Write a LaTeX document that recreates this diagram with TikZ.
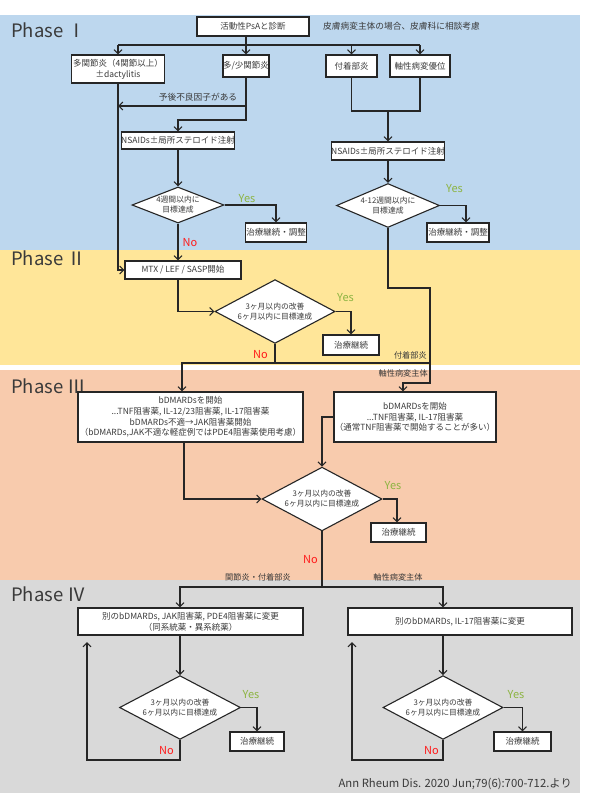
\documentclass[tikz,border=0pt]{standalone}
\usepackage{fontspec}
\setmainfont{Noto Sans CJK JP}
\usetikzlibrary{shapes.geometric,arrows.meta,calc}
\definecolor{bgI}{HTML}{BDD7EE}
\definecolor{bgII}{HTML}{FFE699}
\definecolor{bgIII}{HTML}{F8CBAD}
\definecolor{bgIV}{HTML}{D9D9D9}
\definecolor{txt}{HTML}{3A3A3A}
\definecolor{yesc}{HTML}{8DB442}
\definecolor{noc}{HTML}{FF1A1A}
\definecolor{edge}{HTML}{262626}
\tikzset{
  box/.style={draw=edge, line width=1.1pt, fill=white, inner sep=0pt, align=center, text=txt, font=\fontsize{8.5}{10.8}\selectfont},
  dia/.style={diamond, draw=edge, line width=1.1pt, fill=white, inner sep=-7pt, align=center, text=txt, font=\fontsize{7.8}{10}\selectfont},
  ln/.style={draw=edge, line width=1.1pt},
  arr/.style={ln, -{Straight Barb[length=4pt,width=8pt]}},
  yeslbl/.style={text=yesc, inner sep=0pt, font=\fontsize{11}{12}\selectfont},
  nolbl/.style={text=noc, inner sep=0pt, font=\fontsize{11}{12}\selectfont},
  lbl/.style={inner sep=0pt, text=txt, font=\fontsize{8.2}{10}\selectfont},
  phase/.style={inner sep=0pt, anchor=west, text=txt, font=\fontsize{18.5}{20}\selectfont}
}
\begin{document}
\begin{tikzpicture}[x=1pt,y=-1pt]
\useasboundingbox (0,0) rectangle (592,800);
\fill[white] (0,0) rectangle (592,800);
% backgrounds
\fill[bgI] (0,15) rectangle (580,250);
\fill[bgII] (0,250) rectangle (580,365);
\fill[bgIII] (0,370) rectangle (580,580);
\fill[bgIV] (0,580) rectangle (580,793);
% phase labels
\node[phase] (ph1) at (11,30) {Phase Ⅰ};
\node[phase] (ph2) at (11,258) {Phase Ⅱ};
\node[phase] (ph3) at (11,386) {Phase Ⅲ};
\node[phase] (ph4) at (11,594) {Phase Ⅳ};
% Phase I nodes
\node[box, minimum width=112pt, minimum height=19pt] (psa) at (253,26.5) {活動性PsAと診断};
\node[lbl, anchor=west, font=\fontsize{8.7}{10}\selectfont] (note) at (323,26) {皮膚病変主体の場合、皮膚科に相談考慮};
\node[box, minimum width=93pt, minimum height=28pt] (poly) at (118,69) {多関節炎（4関節以上）\\±dactylitis};
\node[box, minimum width=46pt, minimum height=22pt] (oligo) at (246,66) {多/少関節炎};
\node[box, minimum width=51pt, minimum height=22pt] (enth) at (351.5,66) {付着部炎};
\node[box, minimum width=60pt, minimum height=22pt] (axial) at (420,66) {軸性病変優位};
\node[lbl, font=\fontsize{8.7}{10}\selectfont] (progn) at (198,97) {予後不良因子がある};
\node[box, minimum width=113pt, minimum height=17pt] (nsaid1) at (178,140.5) {NSAIDs±局所ステロイド注射};
\node[dia, minimum width=92pt, minimum height=36pt] (d1) at (178,205) {4週間以内に\\目標達成};
\node[box, minimum width=61pt, minimum height=19pt] (cont1) at (276,232.5) {治療継続・調整};
\node[box, minimum width=112pt, minimum height=18pt] (nsaid2) at (388,151) {NSAIDs±局所ステロイド注射};
\node[dia, minimum width=103pt, minimum height=35pt] (d2) at (388,205.5) {4-12週間以内に\\目標達成};
\node[box, minimum width=62pt, minimum height=19pt] (cont2) at (458,232.5) {治療継続・調整};
% Phase II nodes
\node[box, minimum width=116pt, minimum height=18pt] (mtx) at (183,270) {MTX / LEF / SASP開始};
\node[dia, minimum width=120pt, minimum height=63pt] (d3) at (275,311.5) {3ヶ月以内の改善\\6ヶ月以内に目標達成};
\node[box, minimum width=56pt, minimum height=20pt] (cont3) at (351,345) {治療継続};
% Phase III nodes
\node[box, minimum width=225pt, minimum height=50pt] (bdm1) at (190.5,417) {bDMARDsを開始\\...TNF阻害薬, IL-12/23阻害薬, IL-17阻害薬\\bDMARDs不適→JAK阻害薬開始\\（bDMARDs,JAK不適な軽症例ではPDE4阻害薬使用考慮）};
\node[box, minimum width=162pt, minimum height=50pt] (bdm2) at (415,417) {bDMARDsを開始\\...TNF阻害薬, IL-17阻害薬\\（通常TNF阻害薬で開始することが多い）};
\node[dia, minimum width=120pt, minimum height=62pt] (d4) at (322,499) {3ヶ月以内の改善\\6ヶ月以内に目標達成};
\node[box, minimum width=55pt, minimum height=19pt] (cont4) at (398.5,532.5) {治療継続};
% Phase IV nodes
\node[box, minimum width=225pt, minimum height=27pt] (sw1) at (190.5,621.5) {別のbDMARDs, JAK阻害薬, PDE4阻害薬に変更\\（同系統薬・異系統薬）};
\node[box, minimum width=224pt, minimum height=27pt] (sw2) at (460,621.5) {別のbDMARDs, IL-17阻害薬に変更};
\node[dia, minimum width=121pt, minimum height=61pt] (d5) at (180,707.5) {3ヶ月以内の改善\\6ヶ月以内に目標達成};
\node[box, minimum width=54pt, minimum height=19pt] (cont5) at (257,741.5) {治療継続};
\node[dia, minimum width=120pt, minimum height=61pt] (d6) at (443,707.5) {3ヶ月以内の改善\\6ヶ月以内に目標達成};
\node[box, minimum width=57pt, minimum height=19pt] (cont6) at (522.5,741.5) {治療継続};
% labels
\node[lbl, anchor=east] (lenth) at (427,355) {付着部炎};
\node[lbl, anchor=east] (laxial) at (428,373) {軸性病変主体};
\node[lbl] (ljoint) at (258,577) {関節炎・付着部炎};
\node[lbl] (laxial2) at (398,577) {軸性病変主体};
\node[yeslbl] (y1) at (247,199) {Yes};
\node[nolbl] (n1) at (190,243) {No};
\node[yeslbl] (y2) at (454.5,189) {Yes};
\node[yeslbl] (y3) at (345.5,298) {Yes};
\node[nolbl] (n3) at (260.5,355) {No};
\node[yeslbl] (y4) at (393,486) {Yes};
\node[nolbl] (n4) at (310.5,560) {No};
\node[yeslbl] (y5) at (251,695) {Yes};
\node[nolbl] (n5) at (166.5,751) {No};
\node[yeslbl] (y6) at (516,695) {Yes};
\node[nolbl] (n6) at (431.5,751) {No};
\node[anchor=east, inner sep=0pt, text=txt, font=\fontsize{11.3}{12}\selectfont] (cite) at (572,784) {Ann Rheum Dis. 2020 Jun;79(6):700-712.より};
% helper coordinates
\coordinate (h45) at (0,45);
\coordinate (h106) at (0,106);
\coordinate (h111) at (0,111);
\coordinate (h120) at (0,120);
\coordinate (h288) at (0,288);
\coordinate (rx) at (430,0);
\coordinate (h363) at (0,363);
\coordinate (h383) at (0,383);
\coordinate (h587) at (0,587);
\coordinate (h760) at (0,760);
\coordinate (up1) at (87,642);
\coordinate (up2) at (352,642);
% Phase I connectors
\draw[arr] (oligo.north |- psa.south) -- (oligo.north);
\draw[ln] (poly.north |- h45) -- (axial.north |- h45);
\draw[arr] (poly.north |- h45) -- (poly.north);
\draw[arr] (enth.north |- h45) -- (enth.north);
\draw[arr] (axial.north |- h45) -- (axial.north);
\draw[arr] (poly.south) |- (mtx.west);
\draw[arr] (oligo.south) |- (nsaid1.north |- h120) -- (nsaid1.north);
\draw[arr] (oligo.south |- h106) -- (poly.south |- h106);
\draw[ln] (enth.south) |- (axial.south |- h111) -- (axial.south);
\draw[arr] (nsaid2.north |- h111) -- (nsaid2.north);
\draw[arr] (nsaid1.south) -- (d1.north);
\draw[arr] (d1.east) -| (cont1.north);
\draw[arr] (d1.south) -- (d1.south |- mtx.north);
\draw[arr] (nsaid2.south) -- (d2.north);
\draw[arr] (d2.east) -| ([xshift=8pt]cont2.north);
\draw[arr] (d2.south) |- (rx |- h288) -- (rx |- h383) -| ([xshift=-12pt]bdm2.north);
% Phase II connectors
\draw[arr] (mtx.south -| d1.south) |- (d3.west);
\draw[arr] (d3.east) -| (cont3.north);
\draw[ln] (d3.south) -- (d3.south |- h363);
\draw[arr] (rx |- h363) -| ([xshift=-8.5pt]bdm1.north);
% Phase III connectors
\draw[arr] ([xshift=-6.5pt]bdm1.south) |- (d4.west);
\draw[arr] (bdm2.west) -| (d4.north);
\draw[arr] (d4.east) -| ([xshift=-1.5pt]cont4.north);
\draw[ln] (d4.south) -- (d4.south |- h587);
\draw[arr] (d4.south |- h587) -| ([xshift=-10.5pt]sw1.north);
\draw[arr] (d4.south |- h587) -| ([xshift=-17pt]sw2.north);
% Phase IV connectors
\draw[arr] ([xshift=-10.5pt]sw1.south) -- (d5.north);
\draw[arr] (d5.east) -| (cont5.north);
\draw[arr] (d5.south) |- (up1 |- h760) -- (up1);
\draw[arr] ([xshift=-17pt]sw2.south) -- (d6.north);
\draw[arr] (d6.east) -| (cont6.north);
\draw[arr] (d6.south) |- (up2 |- h760) -- (up2);
\end{tikzpicture}
\end{document}
